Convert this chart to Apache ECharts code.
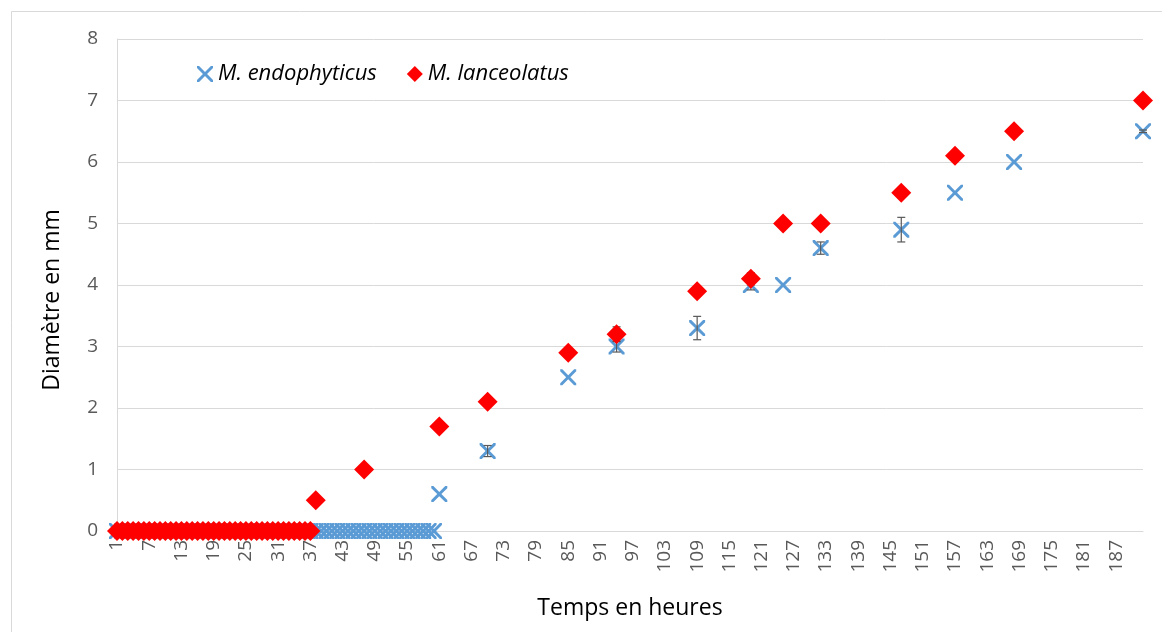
<!DOCTYPE html>
<html>
<head>
<meta charset="utf-8">
<script src="https://cdn.jsdelivr.net/npm/echarts@6/dist/echarts.min.js"></script>
<style>
html,body{margin:0;padding:0;background:#fff;}
#chart{width:1162px;height:632px;}
</style>
</head>
<body>
<div id="chart"></div>
<script>
// Category axis: hours 1..192
const firstHour = 1;
const lastHour = 192;

// M. endophyticus (blue crosses)
const endoHours = [1,2,3,4,5,6,7,8,9,10,11,12,13,14,15,16,17,18,19,20,21,22,23,24,25,26,27,28,29,30,
  31,32,33,34,35,36,37,38,39,40,41,42,43,44,45,46,47,48,49,50,51,52,53,54,55,56,57,58,59,60,
  61,70,85,94,109,119,125,132,147,157,168,192];
const endoValues = [0,0,0,0,0,0,0,0,0,0,0,0,0,0,0,0,0,0,0,0,0,0,0,0,0,0,0,0,0,0,
  0,0,0,0,0,0,0,0,0,0,0,0,0,0,0,0,0,0,0,0,0,0,0,0,0,0,0,0,0,0,
  0.6,1.3,2.5,3.0,3.3,4.0,4.0,4.6,4.9,5.5,6.0,6.5];
const endoErrHours = [70,94,109,119,132,147,192];
const endoErrValues = [0.09,0.09,0.19,0.08,0.1,0.2,0.02];

// M. lanceolatus (red diamonds)
const lanceHours = [1,2,3,4,5,6,7,8,9,10,11,12,13,14,15,16,17,18,19,20,21,22,23,24,25,26,27,28,29,30,
  31,32,33,34,35,36,37,
  38,47,61,70,85,94,109,119,125,132,147,157,168,192];
const lanceValues = [0,0,0,0,0,0,0,0,0,0,0,0,0,0,0,0,0,0,0,0,0,0,0,0,0,0,0,0,0,0,
  0,0,0,0,0,0,0,
  0.5,1.0,1.7,2.1,2.9,3.2,3.9,4.1,5.0,5.0,5.5,6.1,6.5,7.0];
const lanceErrHours = [61,70,94,109,119];
const lanceErrValues = [0.04,0.05,0.12,0.05,0.1];

const yTicks = [0,1,2,3,4,5,6,7,8];
const xTitle = 'Temps en heures';
const yTitle = 'Diamètre en mm';

const categories = [];
for (let h = firstHour; h <= lastHour; h++) categories.push(String(h));

function pairs(hs, vs) { return hs.map((h, i) => [String(h), vs[i]]); }
const endoErr = endoErrHours.map((h, i) => [String(h), endoValues[endoHours.indexOf(h)] - endoErrValues[i], endoValues[endoHours.indexOf(h)] + endoErrValues[i]]);
const lanceErr = lanceErrHours.map((h, i) => [String(h), lanceValues[lanceHours.indexOf(h)] - lanceErrValues[i], lanceValues[lanceHours.indexOf(h)] + lanceErrValues[i]]);

const crossPath = 'path://M0,0 L2.6,0 L10,7.4 L17.4,0 L20,0 L20,2.6 L12.6,10 L20,17.4 L20,20 L17.4,20 L10,12.6 L2.6,20 L0,20 L0,17.4 L7.4,10 L0,2.6 Z';
const FONT = '"Open Sans", "Liberation Sans", sans-serif';

function errRender(params, api) {
  const x = api.value(0);
  const lo = api.coord([x, api.value(1)]);
  const hi = api.coord([x, api.value(2)]);
  const w = 4;
  const style = { stroke: '#595959', lineWidth: 1.2 };
  return {
    type: 'group',
    children: [
      { type: 'line', shape: { x1: lo[0], y1: lo[1], x2: hi[0], y2: hi[1] }, style },
      { type: 'line', shape: { x1: lo[0] - w, y1: lo[1], x2: lo[0] + w, y2: lo[1] }, style },
      { type: 'line', shape: { x1: hi[0] - w, y1: hi[1], x2: hi[0] + w, y2: hi[1] }, style }
    ]
  };
}

const chart = echarts.init(document.getElementById('chart'), null, { renderer: 'canvas' });
chart.setOption({
  animation: false,
  backgroundColor: '#ffffff',
  textStyle: { fontFamily: FONT },
  graphic: [
    {
      type: 'rect', left: 9, top: 9, z: -10, silent: true,
      shape: { width: 1170, height: 640 },
      style: { fill: 'none', stroke: '#d9d9d9', lineWidth: 1 }
    },
    {
      type: 'text', x: 52, y: 300, rotation: Math.PI / 2, silent: true,
      style: { text: yTitle, fontFamily: FONT, fontSize: 23, fill: '#000', align: 'center', verticalAlign: 'middle' }
    }
  ],
  grid: { left: 117, right: 19, top: 39, bottom: 101, containLabel: false },
  legend: {
    left: 192, top: 58,
    itemGap: 30, itemWidth: 16, itemHeight: 16,
    textStyle: { fontFamily: FONT, fontSize: 22, fontStyle: 'italic', color: '#000' },
    data: [
      { name: 'M. endophyticus', icon: crossPath, itemStyle: { color: '#5b9bd5' } },
      { name: 'M. lanceolatus', icon: 'diamond', itemStyle: { color: '#ff0000' } }
    ]
  },
  xAxis: {
    type: 'category',
    data: categories,
    boundaryGap: false,
    name: xTitle,
    nameLocation: 'middle',
    nameGap: 66,
    nameTextStyle: { fontFamily: FONT, fontSize: 23, color: '#000' },
    axisLine: { lineStyle: { color: '#d9d9d9' } },
    axisTick: { show: false },
    axisLabel: { interval: 5, rotate: 90, fontSize: 19, color: '#595959', margin: 9, fontFamily: FONT },
    splitLine: { show: false }
  },
  yAxis: {
    type: 'value',
    min: yTicks[0], max: yTicks[yTicks.length - 1], interval: 1,
    axisLine: { show: true, lineStyle: { color: '#d9d9d9' } },
    axisTick: { show: false },
    axisLabel: { fontSize: 19, color: '#595959', margin: 19, fontFamily: FONT },
    splitLine: { lineStyle: { color: '#d9d9d9', width: 1 } }
  },
  series: [
    {
      name: 'M. endophyticus', type: 'scatter', z: 2,
      symbol: crossPath, symbolSize: 16,
      itemStyle: { color: '#5b9bd5', opacity: 1 },
      data: pairs(endoHours, endoValues)
    },
    {
      name: 'endoErr', type: 'custom', z: 3,
      renderItem: errRender, data: endoErr, silent: true
    },
    {
      name: 'M. lanceolatus', type: 'scatter', z: 4,
      symbol: 'diamond', symbolSize: 20,
      itemStyle: { color: '#ff0000', opacity: 1 },
      data: pairs(lanceHours, lanceValues)
    },
    {
      name: 'lanceErr', type: 'custom', z: 3,
      renderItem: errRender, data: lanceErr, silent: true
    }
  ]
});
</script>
</body>
</html>
